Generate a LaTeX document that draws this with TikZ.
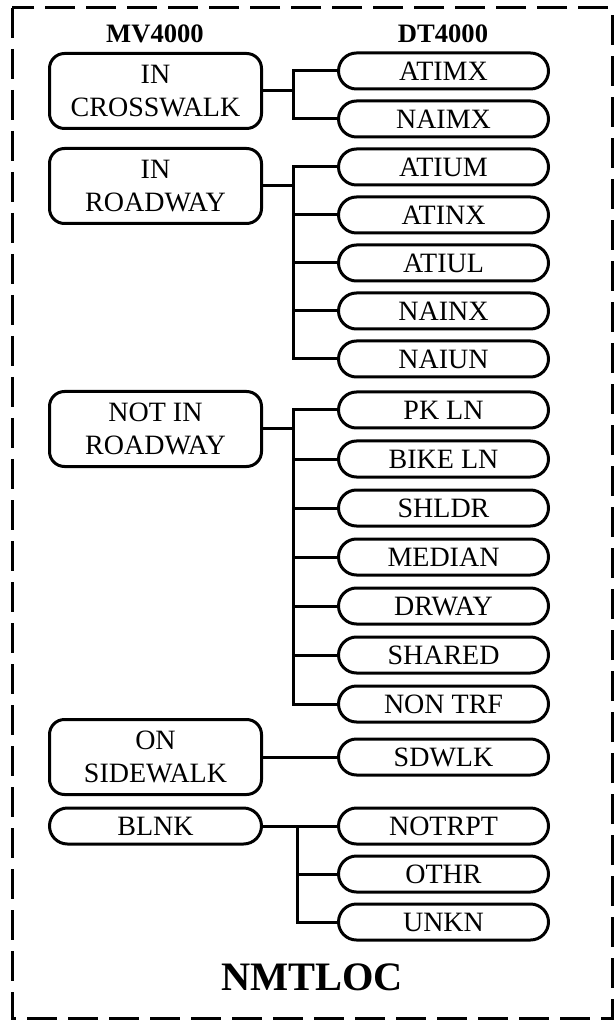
\documentclass[tikz,border=0pt]{standalone}
\usepackage{fontspec}
\setmainfont{Liberation Serif}
\usetikzlibrary{positioning}

\begin{document}
\begin{tikzpicture}[x=0.5pt,y=-0.5pt,line width=1.5pt,node distance=4.5pt and 37pt]
	\tikzstyle{mvbox}=[draw,rounded corners=7.5pt,minimum width=106pt,minimum height=37.5pt,
	                   align=center,inner sep=0pt,font=\fontsize{14}{16.5}\selectfont]
	\tikzstyle{mvsmall}=[mvbox,rounded corners=9pt,minimum height=18pt]
	\tikzstyle{dtbox}=[draw,rounded corners=9pt,minimum width=105pt,minimum height=18pt,
	                   inner sep=0pt,font=\fontsize{14}{16.5}\selectfont]
	\tikzstyle{head}=[inner sep=0pt,font=\bfseries\fontsize{13.3}{16}\selectfont]

	\useasboundingbox (0,0) rectangle (614,1020);
	\draw[dash pattern=on 15pt off 5.5pt] (12,8) rectangle (612,1018);

	\node[head] (mvhead) at (155,34) {MV4000};
	\node[head] (dthead) at (443,34) {DT4000};

	\node[dtbox]                    (atimx)  at (443.5,71)  {ATIMX};
	\node[dtbox,below=of atimx]     (naimx)                 {NAIMX};
	\node[dtbox]                    (atium)  at (443.5,167) {ATIUM};
	\node[dtbox,below=of atium]     (atinx)                 {ATINX};
	\node[dtbox,below=of atinx]     (atiul)                 {ATIUL};
	\node[dtbox,below=of atiul]     (nainx)                 {NAINX};
	\node[dtbox,below=of nainx]     (naiun)                 {NAIUN};
	\node[dtbox]                    (pkln)   at (443.5,410) {PK LN};
	\node[dtbox,below=5pt of pkln]  (bikeln)                {BIKE LN};
	\node[dtbox,below=5pt of bikeln] (shldr)                {SHLDR};
	\node[dtbox,below=5pt of shldr] (median)                {MEDIAN};
	\node[dtbox,below=5pt of median] (drway)                {DRWAY};
	\node[dtbox,below=5pt of drway] (shared)                {SHARED};
	\node[dtbox,below=5pt of shared] (nontrf)               {NON TRF};
	\node[dtbox]                    (sdwlk)  at (443.5,757) {SDWLK};
	\node[dtbox]                    (notrpt) at (443.5,826) {NOTRPT};
	\node[dtbox,below=of notrpt]    (othr)                  {OTHR};
	\node[dtbox,below=of othr]      (unkn)                  {UNKN};

	\node[mvbox]               (incross)   at (155.5,91)  {IN\\CROSSWALK};
	\node[mvbox]               (inroad)    at (155.5,186) {IN\\ROADWAY};
	\node[mvbox]               (notinroad) at (155.5,429) {NOT IN\\ROADWAY};
	\node[mvbox,left=of sdwlk] (onside)                   {ON\\SIDEWALK};
	\node[mvsmall,left=of notrpt] (blnk)                  {BLNK};

	\draw (incross.east) -- ++(30,0) coordinate (jcross);
	\draw (jcross) |- (atimx.west) (jcross) |- (naimx.west);

	\draw (inroad.east) -- ++(30,0) coordinate (jroad);
	\draw (jroad) |- (atium.west) (jroad) |- (atinx.west) (jroad) |- (atiul.west)
	      (jroad) |- (nainx.west) (jroad) |- (naiun.west);

	\draw (notinroad.east) -- ++(30,0) coordinate (jnotin);
	\draw (jnotin) |- (pkln.west) (jnotin) |- (bikeln.west) (jnotin) |- (shldr.west)
	      (jnotin) |- (median.west) (jnotin) |- (drway.west) (jnotin) |- (shared.west)
	      (jnotin) |- (nontrf.west);

	\draw (onside.east) -- (sdwlk.west);

	\draw (blnk.east) -- ++(34,0) coordinate (jblnk);
	\draw (jblnk) |- (notrpt.west) (jblnk) |- (othr.west) (jblnk) |- (unkn.west);

	\node[inner sep=0pt,font=\bfseries\fontsize{20.2}{24}\selectfont] (nmtloc) at (312,977) {NMTLOC};
\end{tikzpicture}
\end{document}
